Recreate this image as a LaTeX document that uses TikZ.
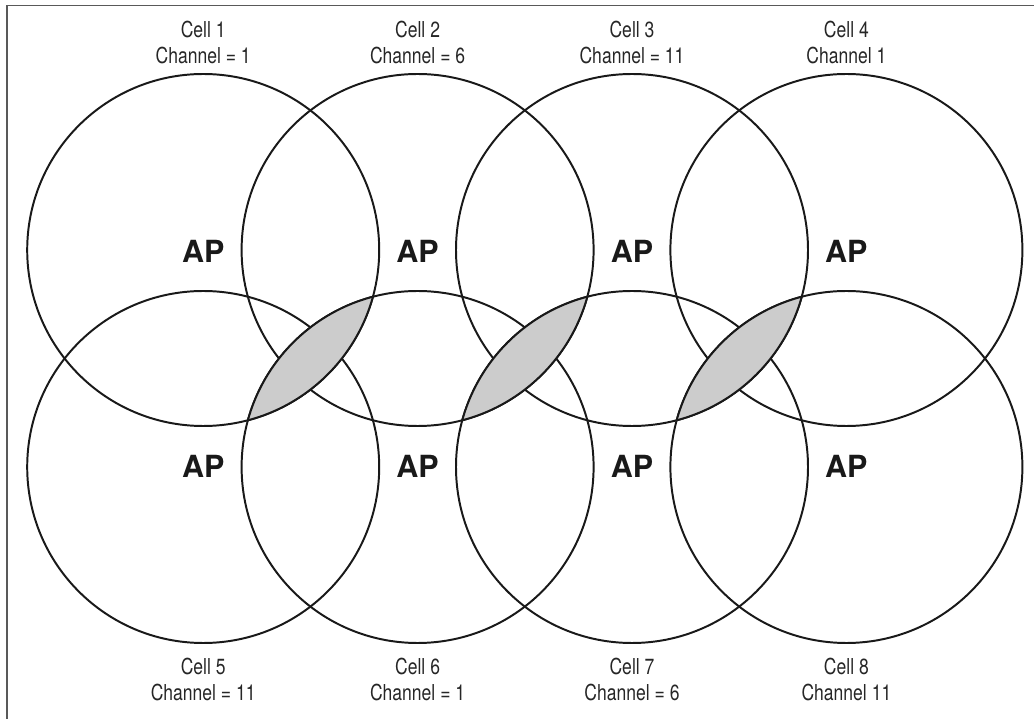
\documentclass[tikz,border=0pt]{standalone}
\usepackage{fontspec}
\setmainfont{TeX Gyre Heros}
\newfontfamily\cellfont{TeX Gyre Heros}[FakeStretch=0.8]
\usetikzlibrary{positioning}

\tikzset{
    ring/.style={line width=1.4pt, black!90},
    lens/.style={fill=black!20},
    cell/.style={font=\cellfont\fontsize{15.6}{18.5}\selectfont, align=center, anchor=base, text=black!85},
    ap/.style={font=\bfseries\fontsize{21.7}{24}\selectfont, anchor=base, text=black!90}
}

\begin{document}
\begin{tikzpicture}
    \useasboundingbox (0,0) rectangle (25.85,17.975);
    \draw[black!65, line width=1pt] (0.175,0) -- (0.175,17.83) -- (25.85,17.83);

    % access point positions
    \coordinate (c1) at (5.08,11.725);
    \coordinate (c2) at (10.44,11.725);
    \coordinate (c3) at (15.8,11.725);
    \coordinate (c4) at (21.16,11.725);
    \coordinate (c5) at (5.08,6.3);
    \coordinate (c6) at (10.44,6.3);
    \coordinate (c7) at (15.8,6.3);
    \coordinate (c8) at (21.16,6.3);

    \foreach \c in {c1,c2,c3,c4,c5,c6,c7,c8}
        \draw[ring] (\c) circle (4.4);

    % shaded overlaps, drawn over the other arcs
    \foreach \a/\b in {c1/c6, c2/c7, c3/c8}{
        \begin{scope}
            \clip (\a) circle (4.4);
            \fill[lens] (\b) circle (4.4);
            \draw[ring] (\b) circle (4.4);
        \end{scope}
        \begin{scope}
            \clip (\b) circle (4.4);
            \draw[ring] (\a) circle (4.4);
        \end{scope}
    }

    \node[ap] (ap1) at (5.08,11.4) {AP};
    \node[ap] (ap2) at (10.44,11.4) {AP};
    \node[ap] (ap3) at (15.8,11.4) {AP};
    \node[ap] (ap4) at (21.16,11.4) {AP};
    \node[ap] (ap5) at (5.08,6.025) {AP};
    \node[ap] (ap6) at (10.44,6.025) {AP};
    \node[ap] (ap7) at (15.8,6.025) {AP};
    \node[ap] (ap8) at (21.16,6.025) {AP};

    % labels, anchored on the second line
    \node[cell] (cell1) at (5.08,16.375) {Cell 1\\Channel = 1};
    \node[cell] (cell2) at (10.44,16.375) {Cell 2\\Channel = 6};
    \node[cell] (cell3) at (15.8,16.375) {Cell 3\\Channel = 11};
    \node[cell] (cell4) at (21.16,16.375) {Cell 4\\Channel 1};
    \node[cell] (cell5) at (5.08,0.45) {Cell 5\\Channel = 11};
    \node[cell] (cell6) at (10.44,0.45) {Cell 6\\Channel = 1};
    \node[cell] (cell7) at (15.8,0.45) {Cell 7\\Channel = 6};
    \node[cell] (cell8) at (21.16,0.45) {Cell 8\\Channel 11};

\end{tikzpicture}
\end{document}
